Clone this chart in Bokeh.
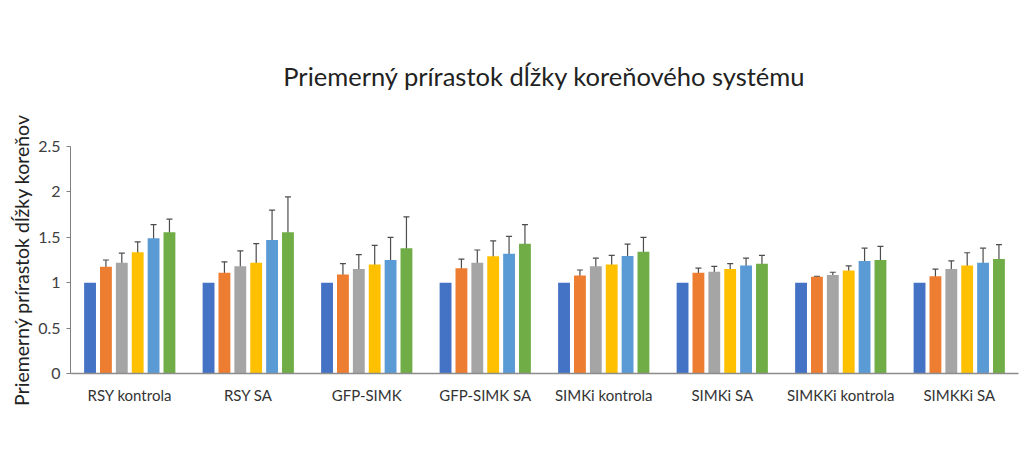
from bokeh.plotting import figure
from bokeh.models import (ColumnDataSource, FactorRange, Whisker, TeeHead, Legend, LegendItem,
                          Range1d, FixedTicker)
from bokeh.transform import dodge
from bokeh.embed import file_html
from bokeh.resources import INLINE

categories = ["RSY kontrola", "RSY SA", "GFP-SIMK", "GFP-SIMK SA",
              "SIMKi kontrola", "SIMKi SA", "SIMKKi kontrola", "SIMKKi SA"]
series = ["0 DAI", "3DAI", "5DAI", "7DAI", "11DAI", "14DAI"]

v0 = [1.0, 1.0, 1.0, 1.0, 1.0, 1.0, 1.0, 1.0]
v3 = [1.175, 1.11, 1.09, 1.16, 1.08, 1.11, 1.066, 1.07]
v5 = [1.22, 1.18, 1.15, 1.22, 1.18, 1.12, 1.085, 1.15]
v7 = [1.335, 1.22, 1.20, 1.29, 1.20, 1.15, 1.135, 1.19]
v11 = [1.49, 1.47, 1.25, 1.32, 1.295, 1.19, 1.24, 1.22]
v14 = [1.555, 1.555, 1.38, 1.43, 1.34, 1.21, 1.25, 1.26]

e3 = [0.075, 0.12, 0.12, 0.10, 0.06, 0.05, 0.005, 0.08]
e5 = [0.105, 0.17, 0.16, 0.14, 0.09, 0.06, 0.03, 0.09]
e7 = [0.115, 0.21, 0.21, 0.17, 0.10, 0.06, 0.05, 0.14]
e11 = [0.15, 0.33, 0.25, 0.19, 0.13, 0.08, 0.14, 0.16]
e14 = [0.145, 0.39, 0.345, 0.21, 0.16, 0.09, 0.15, 0.16]

yticks = [0, 0.5, 1, 1.5, 2, 2.5]
colors = ["#4472C4", "#ED7D31", "#A5A5A5", "#FFC000", "#5B9BD5", "#70AD47"]

values = [v0, v3, v5, v7, v11, v14]
errors = [None, e3, e5, e7, e11, e14]

FONT = "Lato"

p = figure(frame_width=948, frame_height=227, x_range=FactorRange(*categories, range_padding=0),
           y_range=Range1d(0, 2.5), output_backend="svg", toolbar_location=None,
           min_border_left=70, min_border_right=8, min_border_top=146, min_border_bottom=0)
p.outline_line_color = None
p.background_fill_color = "white"
p.border_fill_color = "white"
p.xgrid.grid_line_color = None
p.ygrid.grid_line_color = None

stride = 0.134
bw = 0.10
renderers = []
for i, (name, vals, errs, col) in enumerate(zip(series, values, errors, colors)):
    off = (i - 2.5) * stride
    data = dict(cat=categories, val=vals)
    if errs is not None:
        data["upper"] = [v + e for v, e in zip(vals, errs)]
        data["lower"] = [v - e for v, e in zip(vals, errs)]
    src = ColumnDataSource(data)
    r = p.vbar(x=dodge("cat", off, range=p.x_range), top="val", width=bw, source=src,
               fill_color=col, line_color=None)
    renderers.append(r)
    if errs is not None:
        w = Whisker(base=dodge("cat", off, range=p.x_range), upper="upper", lower="lower",
                    source=src, line_color="#4d4d4d", line_width=1.2,
                    upper_head=TeeHead(size=6, line_color="#4d4d4d", line_width=1.2),
                    lower_head=TeeHead(size=6, line_color="#4d4d4d", line_width=1.2))
        p.add_layout(w)

p.yaxis.ticker = FixedTicker(ticks=yticks)
p.yaxis.major_label_overrides = {0: "0", 0.5: "0.5", 1: "1", 1.5: "1.5", 2: "2", 2.5: "2.5"}
p.yaxis.axis_label = "Priemerný prírastok dĺžky koreňov"
p.yaxis.axis_label_text_font = FONT
p.yaxis.axis_label_text_font_style = "normal"
p.yaxis.axis_label_text_font_size = "19.5px"
p.yaxis.axis_label_text_color = "#222222"
p.yaxis.axis_label_standoff = 2
p.yaxis.major_label_text_font = FONT
p.yaxis.major_label_text_font_size = "16px"
p.yaxis.major_label_text_color = "#404040"
p.yaxis.major_label_standoff = 6
p.yaxis.axis_line_color = "#7f7f7f"
p.yaxis.major_tick_line_color = "#7f7f7f"
p.yaxis.major_tick_out = 4
p.yaxis.major_tick_in = 0
p.yaxis.minor_tick_line_color = None

p.xaxis.axis_line_color = "#8c8c8c"
p.xaxis.axis_line_width = 1.5
p.xaxis.major_tick_line_color = None
p.xaxis.minor_tick_line_color = None
p.xaxis.major_label_text_font = FONT
p.xaxis.major_label_text_font_size = "15px"
p.xaxis.major_label_text_color = "#333333"
p.xaxis.major_label_standoff = 6

p.title.text = "Priemerný prírastok dĺžky koreňového systému"
p.title.align = "center"
p.title.vertical_align = "top"
p.title.text_font = FONT
p.title.text_font_size = "25.5px"
p.title.text_font_style = "normal"
p.title.text_color = "#222222"
p.title.standoff = 108

legend = Legend(items=[LegendItem(label=s, renderers=[r]) for s, r in zip(series, renderers)],
                orientation="horizontal", location="top_center",
                label_text_font=FONT, label_text_font_size="13px", label_text_color="#333333",
                glyph_width=8, glyph_height=8, label_standoff=5, spacing=18, label_height=14,
                border_line_color=None, background_fill_alpha=0, margin=16, padding=10)
p.add_layout(legend, "below")

open("out.html", "w").write(file_html(p, INLINE))
